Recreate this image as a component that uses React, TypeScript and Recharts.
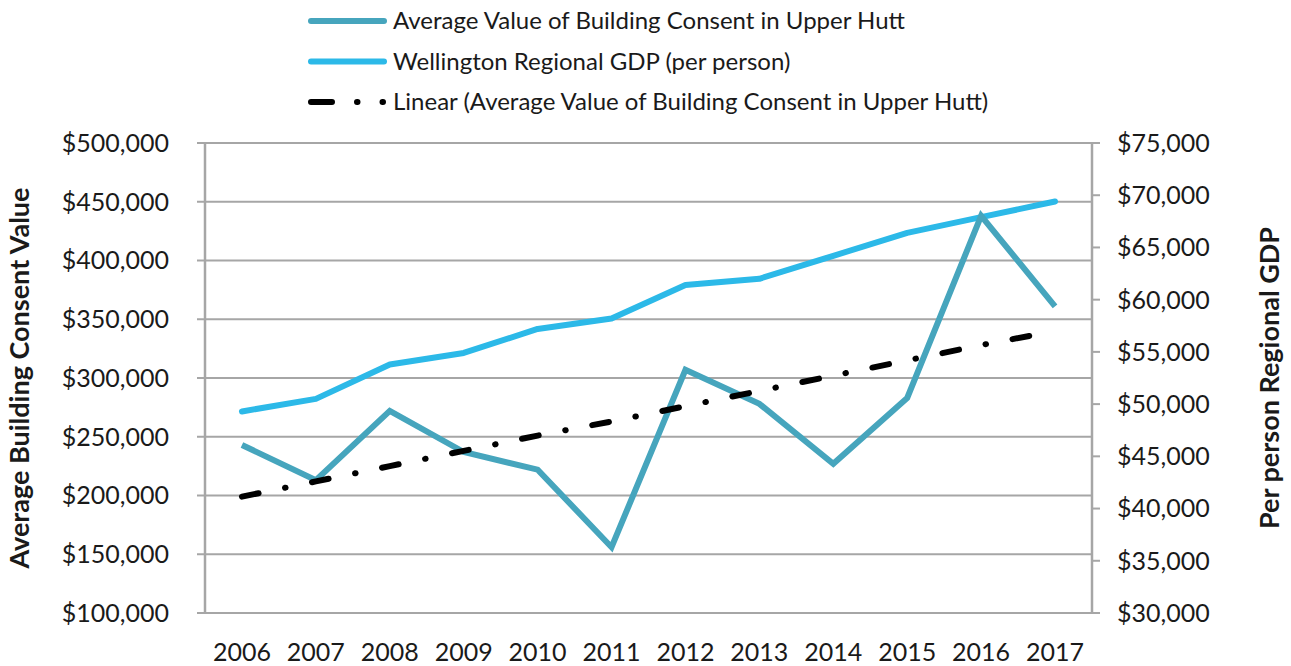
import { ComposedChart, Line, XAxis, YAxis, CartesianGrid } from "recharts";

const years = ["2006", "2007", "2008", "2009", "2010", "2011", "2012", "2013", "2014", "2015", "2016", "2017"];
const consentValue = [243000, 213000, 272000, 237000, 222000, 156000, 307000, 278000, 227000, 283000, 438000, 361000];
const regionalGdp = [49300, 50500, 53800, 54900, 57200, 58200, 61400, 62000, 64200, 66400, 67900, 69400];
const consentTrend = [199000, 212000, 225000, 238000, 251000, 263000, 276000, 289000, 302000, 315000, 328000, 340000];
const leftTicks = [100000, 150000, 200000, 250000, 300000, 350000, 400000, 450000, 500000];
const rightTicks = [30000, 35000, 40000, 45000, 50000, 55000, 60000, 65000, 70000, 75000];

const data = years.map((year, i) => ({
  year,
  consent: consentValue[i],
  gdp: regionalGdp[i],
  trend: consentTrend[i],
}));

const FONT = "Lato, 'Open Sans', sans-serif";
const GRID = "#a6a6a6";
const CONSENT = "#46a5bd";
const GDP = "#2cb9e8";
const TREND_DASH = "17 27 0.5 27";

const fmt = (v: number) => "$" + v.toLocaleString("en-US");

const legendItems = [
  { label: "Average Value of Building Consent in Upper Hutt", color: CONSENT, dash: undefined },
  { label: "Wellington Regional GDP (per person)", color: GDP, dash: undefined },
  { label: "Linear (Average Value of Building Consent in Upper Hutt)", color: "#000", dash: "21 25 0.5 25 0.5 25" },
];

const ChartLegend = () => (
  <svg width={800} height={125} style={{ position: "absolute", left: 290, top: 0 }}>
    {legendItems.map((item, i) => (
      <g key={item.label} transform={`translate(0, ${21 + i * 40.5})`}>
        <line x1={21} x2={94} y1={0} y2={0} stroke={item.color} strokeWidth={6}
          strokeLinecap="round" strokeDasharray={item.dash} />
        <text x={103} y={0} dy="0.35em" fontFamily={FONT} fontSize={24} fill="#1a1a1a">{item.label}</text>
      </g>
    ))}
  </svg>
);

const AxisTitle = ({ viewBox, value, dx }: any) => {
  const x = viewBox.x + dx;
  const y = viewBox.y + viewBox.height / 2;
  return (
    <text x={x} y={y} transform={`rotate(-90, ${x}, ${y})`} textAnchor="middle" dominantBaseline="central"
      fontFamily={FONT} fontSize={27} fontWeight="bold" fill="#1a1a1a">
      {value}
    </text>
  );
};

export default function App() {
  const tickStyle = { fontFamily: FONT, fontSize: 25, fill: "#1a1a1a" };
  return (
    <div style={{ position: "absolute", left: 0, top: 0, width: 1291, height: 666, background: "#fff" }}>
      <ComposedChart width={1291} height={666} data={data} margin={{ top: 143, right: 0, bottom: 0, left: 0 }}>
        <CartesianGrid horizontal vertical={false} stroke={GRID} strokeWidth={2} yAxisId="left" />
        <XAxis xAxisId="edges" type="number" domain={[0, years.length]} ticks={[...years.keys(), years.length]}
          height={0} tick={() => <g />} tickSize={9} tickLine={{ stroke: GRID, strokeWidth: 2 }}
          axisLine={{ stroke: GRID, strokeWidth: 2.5 }} allowDataOverflow />
        <XAxis xAxisId="cat" dataKey="year" scale="band" height={53} tickLine={false} axisLine={false}
          tickSize={0} tickMargin={30} tick={tickStyle} interval={0} />
        <YAxis yAxisId="left" domain={[100000, 500000]} ticks={leftTicks} width={205} tickFormatter={fmt}
          tick={tickStyle} tickSize={8} tickMargin={28} tickLine={{ stroke: GRID, strokeWidth: 2 }}
          axisLine={{ stroke: GRID, strokeWidth: 2.5 }}
          label={{ content: (p: any) => <AxisTitle {...p} value="Average Building Consent Value" dx={18} /> }} />
        <YAxis yAxisId="right" orientation="right" domain={[30000, 75000]} ticks={rightTicks} width={199}
          tickFormatter={fmt} tick={tickStyle} tickSize={8} tickMargin={17}
          tickLine={{ stroke: GRID, strokeWidth: 2 }} axisLine={{ stroke: GRID, strokeWidth: 2.5 }}
          label={{ content: (p: any) => <AxisTitle {...p} value="Per person Regional GDP" dx={176} /> }} />
        <Line xAxisId="cat" yAxisId="right" dataKey="gdp" stroke={GDP} strokeWidth={6} dot={false}
          strokeLinecap="round" strokeLinejoin="round" isAnimationActive={false} />
        <Line xAxisId="cat" yAxisId="left" dataKey="consent" stroke={CONSENT} strokeWidth={6} dot={false}
          strokeLinejoin="miter" isAnimationActive={false} />
        <Line xAxisId="cat" yAxisId="left" dataKey="trend" stroke="#000" strokeWidth={6} dot={false}
          strokeDasharray={TREND_DASH} strokeLinecap="round" isAnimationActive={false} />
      </ComposedChart>
      <ChartLegend />
    </div>
  );
}
